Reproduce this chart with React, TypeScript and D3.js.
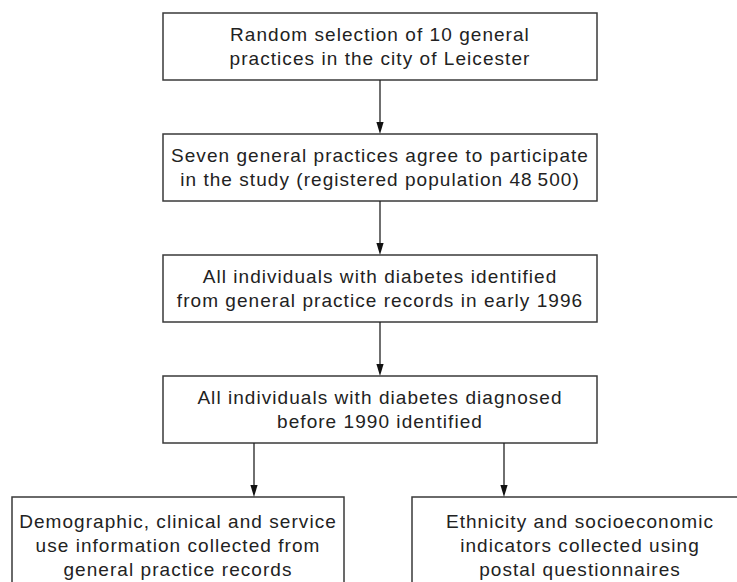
import React from 'react';
import * as d3 from 'd3';

// text of the main chain of steps, top to bottom
const stepLines: string[][] = [
  ['Random selection of 10 general', 'practices in the city of Leicester'],
  ['Seven general practices agree to participate', 'in the study (registered population 48\u2009500)'],
  ['All individuals with diabetes identified', 'from general practice records in early 1996'],
  ['All individuals with diabetes diagnosed', 'before 1990 identified'],
];

// the two branches at the bottom
const branchLines: string[][] = [
  ['Demographic, clinical and service', 'use information collected from', 'general practice records'],
  ['Ethnicity and socioeconomic', 'indicators collected using', 'postal questionnaires'],
];

const W = 737;
const H = 582;
const FONT = '"Liberation Sans", Arial, Helvetica, sans-serif';
const LINE_H = 24;

const App = () => {
  const rowTop = d3.scaleLinear().domain([0, 4]).range([13, 497]);
  const boxH = 67;
  const mainX0 = 163;
  const mainX1 = 597;
  const branchX = d3.scaleOrdinal<number, [number, number]>()
    .domain([0, 1])
    .range([[12, 344], [412, 748]]);
  const arrowX = [254, 504];

  const line = d3.line();

  const arrow = (x: number, y0: number, y1: number, key: string) => {
    const head = 12;
    const hw = 3.6;
    return (
      <g key={key}>
        <path d={line([[x, y0], [x, y1 - head + 1]]) || ''} stroke="#222" strokeWidth={1.3} fill="none" />
        <path
          d={(line([[x - hw, y1 - head], [x + hw, y1 - head], [x, y1]]) || '') + 'Z'}
          fill="#111"
        />
      </g>
    );
  };

  const textBlock = (lines: string[], cx: number, cy: number, key: string) => {
    const first = cy - ((lines.length - 1) * LINE_H) / 2 + 6.5;
    return (
      <text key={key} fontFamily={FONT} fontSize={19} letterSpacing={1.05} fill="#222" textAnchor="middle">
        {lines.map((t, i) => (
          <tspan key={i} x={cx} y={first + i * LINE_H}>{t}</tspan>
        ))}
      </text>
    );
  };

  return (
    <div style={{ position: 'absolute', left: 0, top: 0, width: W, height: H, background: '#fff' }}>
      <svg width={W} height={H} style={{ display: 'block' }}>
        {stepLines.map((lines, i) => {
          const y = rowTop(i);
          return (
            <g key={'s' + i}>
              <rect x={mainX0} y={y} width={mainX1 - mainX0} height={boxH} fill="#fff" stroke="#3a3a3a" strokeWidth={1.5} />
              {textBlock(lines, (mainX0 + mainX1) / 2, y + boxH / 2 - 0.5, 't' + i)}
              {i < stepLines.length - 1 && arrow((mainX0 + mainX1) / 2, y + boxH, rowTop(i + 1), 'a' + i)}
            </g>
          );
        })}
        {branchLines.map((lines, i) => {
          const [x0, x1] = branchX(i);
          const y = rowTop(4);
          return (
            <g key={'b' + i}>
              <rect x={x0} y={y} width={x1 - x0} height={110} fill="#fff" stroke="#3a3a3a" strokeWidth={1.5} />
              {textBlock(lines, (x0 + x1) / 2, y + 48, 'bt' + i)}
              {arrow(arrowX[i], rowTop(3) + boxH, y, 'ba' + i)}
            </g>
          );
        })}
      </svg>
    </div>
  );
};

export default App;
